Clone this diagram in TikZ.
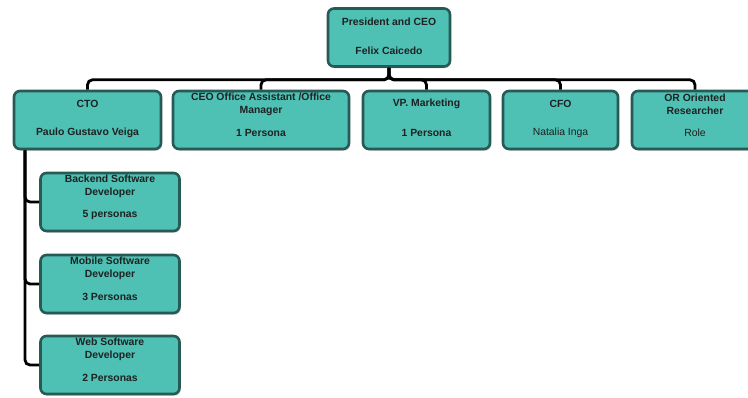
\documentclass[tikz,border=0pt]{standalone}
\usepackage{fontspec}
\setmainfont{Liberation Sans}
\usepackage{tikz}
\usetikzlibrary{calc, shadows}

\definecolor{boxfill}{RGB}{78,192,180}
\definecolor{boxedge}{RGB}{40,90,85}
\definecolor{inktext}{RGB}{30,34,34}

\begin{document}
\begin{tikzpicture}[x=1pt, y=-1pt, font=\fontsize{10.4}{12.5}\selectfont,
  rolebox/.style={draw=boxedge, fill=boxfill, line width=2.6pt, rounded corners=6pt,
                  minimum height=58pt, inner sep=0pt,
                  drop shadow={shadow xshift=1.2pt, shadow yshift=-1.8pt, opacity=0.3}},
  ttl/.style={align=center, text=inktext, font=\bfseries\fontsize{10.4}{12.5}\selectfont},
  sub/.style={align=center, text=inktext},
  link/.style={draw=black, line width=2.8pt, rounded corners=5pt}]
  \clip (0,0) rectangle (748,398);

  % top
  \node[rolebox, minimum width=122pt] (ceo) at (389,37.5) {};
  \node[ttl] (ceo-t) at ([yshift=-14.5pt]ceo.north) {President and CEO};
  \node[ttl] (ceo-s) at ([yshift=-43.5pt]ceo.north) {Felix Caicedo};

  % second row
  \node[rolebox, minimum width=147pt] (cto)  at (87.5,120) {};
  \node[rolebox, minimum width=176pt] (asst) at (261,120) {};
  \node[rolebox, minimum width=127pt] (vp)   at (426.5,120) {};
  \node[rolebox, minimum width=115pt] (cfo)  at (560.5,120) {};
  \node[rolebox, minimum width=126pt] (orr)  at (695,120) {};

  \node[ttl] (cto-t)  at ([yshift=-14.5pt]cto.north)  {CTO};
  \node[ttl] (cto-s)  at ([yshift=-43.5pt]cto.north)  {Paulo Gustavo Veiga};
  \node[ttl] (asst-t) at ([yshift=-14.5pt]asst.north) {CEO Office Assistant /Office\\Manager};
  \node[ttl] (asst-s) at ([yshift=-43.5pt]asst.north) {1 Persona};
  \node[ttl] (vp-t)   at ([yshift=-14.5pt]vp.north)   {VP. Marketing};
  \node[ttl] (vp-s)   at ([yshift=-43.5pt]vp.north)   {1 Persona};
  \node[ttl] (cfo-t)  at ([yshift=-14.5pt]cfo.north)  {CFO};
  \node[sub] (cfo-s)  at ([yshift=-43.5pt]cfo.north)  {Natalia Inga};
  \node[ttl] (orr-t)  at ([yshift=-14.5pt]orr.north)  {OR Oriented\\Researcher};
  \node[sub] (orr-s)  at ([yshift=-43.5pt]orr.north)  {Role};

  % developers under CTO
  \node[rolebox, minimum width=139pt] (backend) at (110,202) {};
  \node[rolebox, minimum width=139pt] (mobile)  at (110,284) {};
  \node[rolebox, minimum width=139pt] (web)     at (110,365) {};

  \node[ttl] (backend-t) at ([yshift=-14.5pt]backend.north) {Backend Software\\Developer};
  \node[ttl] (backend-s) at ([yshift=-43.5pt]backend.north) {5 personas};
  \node[ttl] (mobile-t)  at ([yshift=-14.5pt]mobile.north)  {Mobile Software\\Developer};
  \node[ttl] (mobile-s)  at ([yshift=-43.5pt]mobile.north)  {3 Personas};
  \node[ttl] (web-t)     at ([yshift=-14.5pt]web.north)     {Web Software\\Developer};
  \node[ttl] (web-s)     at ([yshift=-43.5pt]web.north)     {2 Personas};

  \coordinate (ctoleg) at ([xshift=-62.5pt]cto.south);

  \foreach \c in {cto,asst,vp,cfo,orr}
     \draw[link] (ceo.south) -- ++(0,12) -| (\c.north);
  \foreach \c in {backend,mobile,web}
     \draw[link] (ctoleg) |- (\c.west);
\end{tikzpicture}
\end{document}
